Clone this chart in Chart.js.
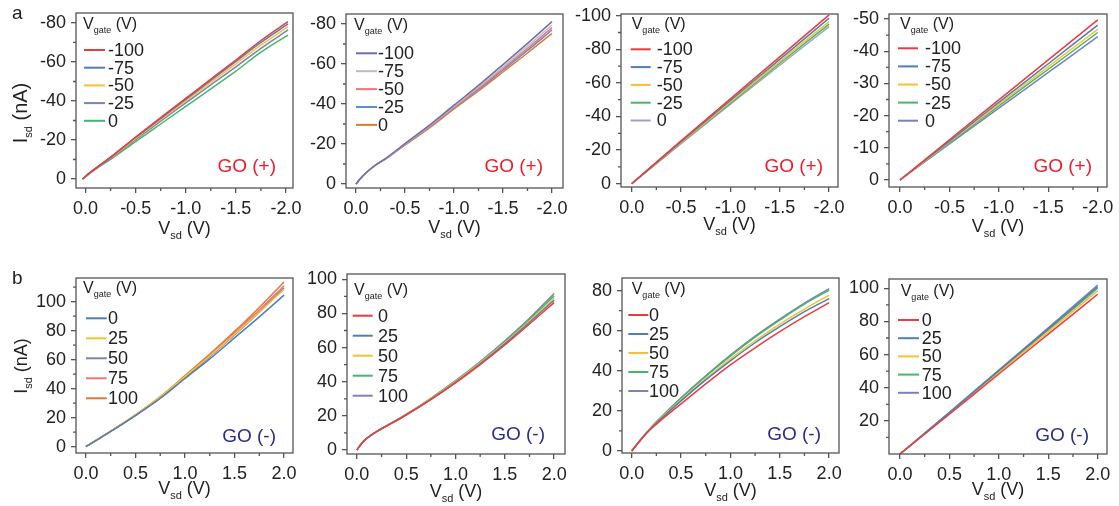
<!DOCTYPE html>
<html>
<head>
<meta charset="utf-8">
<script src="https://cdn.jsdelivr.net/npm/chart.js@4.4.1/dist/chart.umd.min.js"></script>
<style>
  html, body { margin: 0; padding: 0; background: #fff; }
  body { width: 1119px; height: 506px; position: relative; overflow: hidden; }
  canvas { position: absolute; }
</style>
</head>
<body>
<script>
// gate voltages, legend order
const gatesNeg = ['-100', '-75', '-50', '-25', '0'];
const gatesPos = ['0', '25', '50', '75', '100'];

const RED = '#ec3b40', BLUE = '#4f7fb6', YELLOW = '#f6c231', PURPLE = '#7e80b8',
      GREEN = '#45b76c', GRAY = '#bcbcbc', PINK = '#f07478', ORANGE = '#df7a33',
      NAVY = '#6c6eaf', SKY = '#5d8fcc', LILAC = '#9fa0c0';

// a, panel 1: GO(+), source-drain sweep to negative bias
const a1Vsd = [0.03, -0.05, -0.1, -0.25, -0.5, -0.75, -1.0, -1.25, -1.5, -1.75, -2.02];
const a1Isd = [
  [0, -3.5, -5.5, -11.2, -21.5, -31.5, -41.3, -51.2, -61.0, -71.0, -80.7],
  [0, -3.5, -5.5, -11.1, -21.3, -31.1, -40.8, -50.5, -60.3, -70.0, -79.5],
  [0, -3.4, -5.4, -10.9, -20.8, -30.5, -40.0, -49.5, -59.0, -68.6, -78.1],
  [0, -3.3, -5.3, -10.6, -20.2, -29.7, -39.0, -48.3, -57.5, -67.0, -76.4],
  [0, -3.2, -5.0, -10.1, -19.2, -28.2, -37.2, -46.2, -55.3, -65.0, -73.8]
];
const a1Colors = [RED, BLUE, YELLOW, PURPLE, GREEN];

// a, panel 2
const a2Vsd = [0, -0.05, -0.1, -0.2, -0.3, -0.5, -0.75, -1.0, -1.25, -1.5, -1.75, -2.0];
const a2Isd = [
  [0, -3, -5.5, -9.5, -12.7, -20.2, -29.4, -39.4, -49.3, -59.7, -70.3, -81.2],
  [0, -3, -5.5, -9.5, -12.6, -20.0, -29.0, -38.8, -48.5, -58.5, -69.0, -79.5],
  [0, -3, -5.5, -9.5, -12.5, -19.8, -28.7, -38.3, -47.8, -57.7, -67.8, -78.2],
  [0, -3, -5.5, -9.5, -12.5, -19.7, -28.5, -38.0, -47.3, -57.0, -66.8, -77.0],
  [0, -3, -5.5, -9.5, -12.5, -19.5, -28.0, -37.5, -46.5, -56.0, -65.5, -75.3]
];
const a2Colors = [NAVY, GRAY, PINK, SKY, ORANGE];

// a, panel 3
const a3Vsd = [0, -0.5, -1.0, -1.5, -2.0];
const a3Isd = [
  [0, -25.5, -50.5, -75.5, -100.5],
  [0, -25.0, -49.5, -74.0, -98.5],
  [0, -24.5, -48.7, -72.7, -96.5],
  [0, -24.2, -48.0, -71.7, -95.0],
  [0, -23.8, -47.3, -70.5, -93.5]
];
const a3Colors = [RED, BLUE, YELLOW, GREEN, LILAC];

// a, panel 4
const a4Vsd = [0, -0.5, -1.0, -1.5, -2.0];
const a4Isd = [
  [0, -12.5, -24.9, -37.3, -49.7],
  [0, -12.1, -24.1, -36.1, -48.1],
  [0, -11.8, -23.5, -35.2, -46.8],
  [0, -11.5, -23.0, -34.4, -45.8],
  [0, -11.2, -22.3, -33.4, -44.5]
];
const a4Colors = [RED, BLUE, YELLOW, GREEN, PURPLE];

// b, panel 1: GO(-), positive bias
const b1Vsd = [0, 0.1, 0.25, 0.5, 0.75, 1.0, 1.25, 1.5, 1.75, 2.0];
const b1Isd = [
  [0, 4.2, 10.5, 21.5, 33.3, 47.0, 60.5, 75.0, 89.5, 104.5],
  [0, 4.3, 10.8, 22.0, 34.3, 48.3, 62.5, 77.5, 92.7, 108.5],
  [0, 4.2, 10.6, 21.6, 33.6, 47.5, 62.0, 77.0, 92.8, 109.5],
  [0, 4.2, 10.6, 21.8, 34.0, 48.2, 63.0, 78.5, 94.2, 111.0],
  [0, 4.3, 10.8, 22.0, 34.5, 49.0, 63.8, 79.5, 96.0, 113.5]
];
const b1Colors = [BLUE, YELLOW, PURPLE, PINK, ORANGE];

// b, panel 2
const b2Vsd = [0, 0.05, 0.1, 0.2, 0.3, 0.5, 0.75, 1.0, 1.25, 1.5, 1.75, 2.0];
const b2Isd = [
  [0, 4, 6.8, 10.8, 14.0, 20.5, 29.5, 39.3, 50.0, 61.5, 73.8, 86.3],
  [0, 4, 6.8, 10.8, 14.0, 20.6, 29.7, 39.6, 50.5, 62.2, 74.8, 87.8],
  [0, 4, 6.8, 10.8, 14.1, 20.7, 29.9, 40.0, 51.0, 62.8, 75.6, 89.0],
  [0, 4, 6.8, 10.8, 14.1, 20.8, 30.1, 40.3, 51.4, 63.4, 76.4, 90.3],
  [0, 4, 6.8, 10.8, 14.2, 20.9, 30.3, 40.6, 51.8, 64.0, 77.2, 91.7]
];
const b2Colors = [RED, BLUE, YELLOW, GREEN, PURPLE];

// b, panel 3
const b3Vsd = [0, 0.1, 0.2, 0.3, 0.5, 0.75, 1.0, 1.25, 1.5, 1.75, 2.0];
const b3Isd = [
  [0, 6.0, 11.2, 15.5, 23.5, 33.5, 43.0, 51.5, 59.5, 67.0, 74.0],
  [0, 6.1, 11.6, 16.2, 25.0, 35.5, 45.0, 54.0, 62.0, 69.5, 76.0],
  [0, 6.2, 11.8, 16.5, 25.5, 36.0, 46.0, 55.0, 63.3, 70.8, 77.8],
  [0, 6.3, 12.0, 16.9, 26.3, 37.2, 47.3, 56.8, 65.3, 73.3, 80.3],
  [0, 6.3, 12.0, 17.0, 26.5, 37.5, 47.8, 57.3, 65.8, 73.8, 81.0]
];
const b3Colors = [RED, BLUE, YELLOW, GREEN, PURPLE];

// b, panel 4
const b4Vsd = [0, 0.5, 1.0, 1.5, 2.0];
const b4Isd = [
  [0, 24.0, 48.3, 72.3, 96.4],
  [0, 25.0, 50.3, 75.5, 101.0],
  [0, 24.5, 49.2, 73.8, 98.5],
  [0, 24.8, 49.8, 74.8, 100.0],
  [0, 25.2, 50.6, 76.2, 102.0]
];
const b4Colors = [RED, BLUE, YELLOW, GREEN, PURPLE];

// tick values
const xTicksNeg = [0, -0.5, -1, -1.5, -2];
const xMinorNeg = [-0.25, -0.75, -1.25, -1.75];
const xTicksPos = [0, 0.5, 1, 1.5, 2];
const xMinorPos = [0.25, 0.75, 1.25, 1.75];

const FONT = '"Liberation Sans", Arial, sans-serif';
const INK = '#222';
const FRAME = '#555';
const font = size => `${size}px ${FONT}`;

// draws a run of text pieces, [text, size, dy], e.g. for subscripts
function drawParts(ctx, parts, x, y, align) {
  let total = 0;
  parts.forEach(([txt, size]) => { ctx.font = font(size); total += ctx.measureText(txt).width; });
  let cx = align === 'center' ? x - total / 2 : (align === 'right' ? x - total : x);
  ctx.textAlign = 'left';
  ctx.textBaseline = 'alphabetic';
  parts.forEach(([txt, size, dy]) => {
    ctx.font = font(size);
    ctx.fillText(txt, cx, y + dy);
    cx += ctx.measureText(txt).width;
  });
}

const panels = [
  { box: [0, 0, 306, 250], area: [76, 13, 293, 188], vsd: a1Vsd, isd: a1Isd, colors: a1Colors, gates: gatesNeg,
    x: [-2.07, 0.095], y: [-85.1, 4.6], yTicks: [-80, -60, -40, -20, 0], yMinor: [-70, -50, -30, -10],
    legend: [7, 16, 8, 21, 32, 37, 17.7], tag: 'GO (+)', tagPos: [17, 16], xTitle: 46,
    yTitle: [20, 113], letter: ['a', 12, 18.5] },
  { box: [306, 0, 266, 250], area: [346, 14, 563, 188], vsd: a2Vsd, isd: a2Isd, colors: a2Colors, gates: gatesNeg,
    x: [-2.112, 0.102], y: [-85, 2], yTicks: [-80, -60, -40, -20, 0], yMinor: [-70, -50, -30, -10],
    legend: [8, 16, 10, 21, 32, 39.3, 17.9], tag: 'GO (+)', tagPos: [20, 16], xTitle: 45 },
  { box: [572, 0, 277, 250], area: [621, 14, 838, 187], vsd: a3Vsd, isd: a3Isd, colors: a3Colors, gates: gatesNeg,
    x: [-2.09, 0.108], y: [-101, 1.96], yTicks: [-100, -80, -60, -40, -20, 0], yMinor: [-90, -70, -50, -30, -10],
    legend: [10.7, 15.3, 9.7, 20, 35.7, 35.3, 17.8], tag: 'GO (+)', tagPos: [15, 15], xTitle: 43 },
  { box: [849, 0, 270, 250], area: [889, 14, 1107, 187], vsd: a4Vsd, isd: a4Isd, colors: a4Colors, gates: gatesNeg,
    x: [-2.094, 0.111], y: [-51.55, 2.17], yTicks: [-50, -40, -30, -20, -10, 0], yMinor: [-45, -35, -25, -15, -5],
    legend: [11, 15.3, 9, 20, 36, 34.3, 18.1], tag: 'GO (+)', tagPos: [15, 15], xTitle: 44.7 },
  { box: [0, 250, 301, 256], area: [76, 278, 293, 453], vsd: b1Vsd, isd: b1Isd, colors: b1Colors, gates: gatesPos,
    x: [-0.1, 2.09], y: [-4.34, 116.3], yTicks: [0, 20, 40, 60, 80, 100], yMinor: [10, 30, 50, 70, 90, 110],
    legend: [7, 14.7, 10, 20.7, 32, 40.3, 20], tag: 'GO (-)', tagPos: [17, 11], xTitle: 41,
    yTitle: [18, 366], letter: ['b', 12, 283.5] },
  { box: [301, 250, 277, 256], area: [347, 274, 565, 454], vsd: b2Vsd, isd: b2Isd, colors: b2Colors, gates: gatesPos,
    x: [-0.1, 2.11], y: [-2.34, 103.1], yTicks: [0, 20, 40, 60, 80, 100], yMinor: [10, 30, 50, 70, 90],
    legend: [7, 21, 5.7, 20, 31, 41.7, 20], tag: 'GO (-)', tagPos: [20, 14], xTitle: 42.7 },
  { box: [578, 250, 267, 256], area: [622, 278, 839, 453], vsd: b3Vsd, isd: b3Isd, colors: b3Colors, gates: gatesPos,
    x: [-0.098, 2.1], y: [-1.0, 86.3], yTicks: [0, 20, 40, 60, 80], yMinor: [10, 30, 50, 70],
    legend: [9.7, 16, 6.3, 20, 27, 37, 19], tag: 'GO (-)', tagPos: [18, 13], xTitle: 43 },
  { box: [845, 250, 274, 256], area: [889, 279, 1107, 454], vsd: b4Vsd, isd: b4Isd, colors: b4Colors, gates: gatesPos,
    x: [-0.111, 2.094], y: [0, 105.6], yTicks: [20, 40, 60, 80, 100], yMinor: [10, 30, 50, 70, 90],
    legend: [11.7, 17, 9, 21, 32.7, 41, 18.2], tag: 'GO (-)', tagPos: [18, 13], xTitle: 41 }
];

function decor(p) {
  const [bx, by] = p.box;
  const neg = p.gates === gatesNeg;
  return {
    id: 'decor',
    afterDatasetsDraw(chart) {
      const ctx = chart.ctx;
      const a = chart.chartArea;
      const xs = chart.scales.x, ys = chart.scales.y;
      ctx.save();

      // frame and minor ticks
      ctx.strokeStyle = FRAME;
      ctx.lineWidth = 1.3;
      ctx.strokeRect(a.left, a.top, a.right - a.left, a.bottom - a.top);
      ctx.beginPath();
      (neg ? xMinorNeg : xMinorPos).forEach(v => {
        const px = xs.getPixelForValue(v);
        ctx.moveTo(px, a.bottom); ctx.lineTo(px, a.bottom + 3);
      });
      p.yMinor.forEach(v => {
        const py = ys.getPixelForValue(v);
        ctx.moveTo(a.left, py); ctx.lineTo(a.left - 3, py);
      });
      ctx.stroke();

      // legend inside the plot
      const [tx, ty, lx, len, txtX, y0, step] = p.legend;
      ctx.fillStyle = INK;
      drawParts(ctx, [['V', 16, 0], ['gate', 9, 4], [' (V)', 16, 0]], a.left + tx, a.top + ty, 'left');
      chart.data.datasets.forEach((ds, i) => {
        const y = a.top + y0 + i * step;
        ctx.strokeStyle = ds.borderColor;
        ctx.lineWidth = 2;
        ctx.beginPath();
        ctx.moveTo(a.left + lx, y); ctx.lineTo(a.left + lx + len, y);
        ctx.stroke();
        ctx.fillStyle = INK;
        ctx.font = font(18);
        ctx.textAlign = 'left';
        ctx.textBaseline = 'middle';
        ctx.fillText(ds.label, a.left + txtX, y + 1);
      });

      // sample tag
      ctx.fillStyle = neg ? '#e8202a' : '#2b2d8e';
      ctx.font = font(19);
      ctx.textAlign = 'right';
      ctx.textBaseline = 'alphabetic';
      ctx.fillText(p.tag, a.right - p.tagPos[0], a.bottom - p.tagPos[1]);

      // axis titles
      ctx.fillStyle = INK;
      drawParts(ctx, [['V', 18, 0], ['sd', 11, 5], [' (V)', 18, 0]], (a.left + a.right) / 2, a.bottom + p.xTitle, 'center');
      if (p.yTitle) {
        const [size, cy] = p.yTitle;
        ctx.save();
        ctx.translate(27 - bx, cy - by);
        ctx.rotate(-Math.PI / 2);
        drawParts(ctx, [['I', size, 0], ['sd', 11, 5], [' (nA)', size, 0]], 0, 0, 'center');
        ctx.restore();
      }
      if (p.letter) {
        ctx.font = font(19);
        ctx.textAlign = 'left';
        ctx.fillText(p.letter[0], p.letter[1] - bx, p.letter[2] - by);
      }
      ctx.restore();
    }
  };
}

function makePanel(p) {
  const [bx, by, bw, bh] = p.box;
  const [l, t, r, b] = p.area;
  const xAxisH = 30;
  const canvas = document.createElement('canvas');
  canvas.width = bw;
  canvas.height = bh;
  canvas.style.left = bx + 'px';
  canvas.style.top = by + 'px';
  document.body.appendChild(canvas);

  const neg = p.gates === gatesNeg;
  const datasets = p.isd.map((curve, k) => ({
    label: p.gates[k],
    data: p.vsd.map((v, i) => ({ x: v, y: curve[i] })),
    borderColor: p.colors[k],
    backgroundColor: p.colors[k],
    borderWidth: 1.5,
    pointRadius: 0,
    cubicInterpolationMode: 'monotone',
    fill: false
  }));

  const gridOpts = { drawOnChartArea: false, drawTicks: true, tickLength: 5, color: FRAME, lineWidth: 1.3 };
  const tickFont = { family: FONT, size: 18 };

  new Chart(canvas, {
    type: 'line',
    data: { datasets },
    options: {
      responsive: false,
      animation: false,
      devicePixelRatio: 1,
      layout: { padding: { left: 0, top: t - by, right: bx + bw - r, bottom: by + bh - b - xAxisH } },
      plugins: { legend: { display: false }, tooltip: { enabled: false } },
      scales: {
        x: {
          type: 'linear', bounds: 'data', reverse: neg, min: p.x[0], max: p.x[1],
          afterBuildTicks: ax => { ax.ticks = (neg ? xTicksNeg : xTicksPos).map(v => ({ value: v })); },
          afterFit: ax => { ax.height = xAxisH; ax.paddingLeft = 0; ax.paddingRight = 0; },
          grid: gridOpts,
          border: { display: false },
          ticks: { autoSkip: false, maxRotation: 0, minRotation: 0, padding: 5, color: INK, font: tickFont,
                   callback: v => v.toFixed(1) }
        },
        y: {
          type: 'linear', bounds: 'data', reverse: neg, min: p.y[0], max: p.y[1],
          afterBuildTicks: ax => { ax.ticks = p.yTicks.map(v => ({ value: v })); },
          afterFit: ax => { ax.width = l - bx; ax.paddingTop = 0; ax.paddingBottom = 0; },
          grid: gridOpts,
          border: { display: false },
          ticks: { autoSkip: false, padding: 5, color: INK, font: tickFont, callback: v => String(v) }
        }
      }
    },
    plugins: [decor(p)]
  });
}

panels.forEach(makePanel);
</script>
</body>
</html>
